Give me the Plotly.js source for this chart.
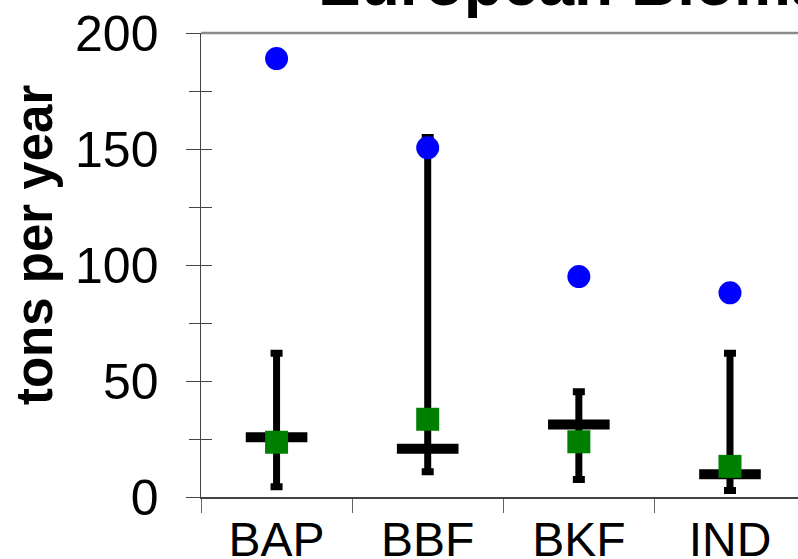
<!DOCTYPE html>
<html>
<head>
<meta charset="utf-8">
<script src="https://cdn.plot.ly/plotly-3.0.1.min.js"></script>
<style>html,body{margin:0;padding:0;background:#fff;}#chart{width:798px;height:559px;}</style>
</head>
<body>
<div id="chart"></div>
<script>
// Data
var categories = ['BAP', 'BBF', 'BKF', 'IND'];
var blueValues = [189, 150.5, 95, 88];
var greenValues = [23.6, 33.5, 23.8, 13.2];
var centralValues = [25.8, 20.8, 31.2, 9.8];
var upperValues = [62, 155, 45.4, 62];
var lowerValues = [4.4, 10.9, 7.5, 2.8];
var titleText = 'European Biomass Burning';
var yTitleText = 'tons per year';

var errPlus = upperValues.map(function (u, i) { return u - centralValues[i]; });
var errMinus = lowerValues.map(function (l, i) { return centralValues[i] - l; });

var font = 'Arial, "Liberation Sans", sans-serif';

var traces = [
  {
    type: 'scatter', mode: 'markers', name: 'range',
    x: categories, y: centralValues,
    marker: { symbol: 'line-ew', size: 44, color: '#000', line: { color: '#000', width: 10 } },
    error_y: { type: 'data', symmetric: false, array: errPlus, arrayminus: errMinus,
               color: '#000', thickness: 7, width: 6 },
    hoverinfo: 'skip'
  },
  {
    type: 'scatter', mode: 'markers', name: 'green',
    x: categories, y: greenValues,
    marker: { symbol: 'square', size: 23, color: '#008000', line: { width: 0 } }
  },
  {
    type: 'scatter', mode: 'markers', name: 'blue',
    x: categories, y: blueValues, yaxis: 'y2',
    marker: { symbol: 'circle', size: 23, color: '#0000ff', line: { width: 0 } }
  }
];

var layout = {
  width: 798, height: 559,
  margin: { l: 201, r: 0, t: 33, b: 62, pad: 0 },
  paper_bgcolor: '#fff', plot_bgcolor: '#fff',
  showlegend: false,
  font: { family: font, color: '#000' },
  title: {
    text: '<b>' + titleText + '</b>',
    font: { family: font, size: 64, color: '#000' },
    xref: 'container', x: 318 / 798, xanchor: 'left',
    yref: 'paper', y: 1, yanchor: 'bottom',
    pad: { t: 0, b: 28, l: 0, r: 0 }
  },
  xaxis: {
    type: 'category',
    range: [-0.5, 3.45],
    showgrid: false, zeroline: false,
    showline: true, linecolor: '#444', linewidth: 1.5,
    ticks: 'outside', tickson: 'boundaries', ticklen: 14, tickcolor: '#666', tickwidth: 1,
    tickfont: { family: font, size: 48, color: '#000' },
    ticklabelstandoff: 0
  },
  yaxis: {
    range: [0, 200], dtick: 50, tick0: 0,
    showgrid: false, zeroline: false,
    showline: true, linecolor: '#444', linewidth: 1.5,
    ticks: 'outside', ticklen: 14, tickcolor: '#444', tickwidth: 1,
    minor: { ticks: 'outside', ticklen: 11, dtick: 25, tickcolor: '#444', tickwidth: 1, showgrid: false },
    tickfont: { family: font, size: 50, color: '#000' },
    ticklabelstandoff: 17
  },
  yaxis2: {
    overlaying: 'y', matches: 'y', side: 'left',
    range: [0, 200], dtick: 50, tick0: 0,
    showgrid: false, zeroline: false, showline: false,
    showticklabels: false,
    ticks: 'inside', ticklen: 11, tickcolor: '#444', tickwidth: 1,
    minor: { ticks: 'inside', ticklen: 11, dtick: 25, tickcolor: '#444', tickwidth: 1, showgrid: false }
  },
  annotations: [
    { text: '<b>' + yTitleText + '</b>', textangle: -90, showarrow: false,
      xref: 'paper', x: 0, xanchor: 'center', xshift: -167,
      yref: 'paper', y: 0.543, yanchor: 'middle',
      font: { family: font, size: 51, color: '#000' } }
  ],
  shapes: [
    { type: 'line', xref: 'paper', yref: 'paper', x0: 0, x1: 1, y0: 1, y1: 1,
      line: { color: '#8a8a8a', width: 2.5 }, layer: 'above' }
  ]
};

Plotly.newPlot('chart', traces, layout, { displayModeBar: false, staticPlot: true });
</script>
</body>
</html>
